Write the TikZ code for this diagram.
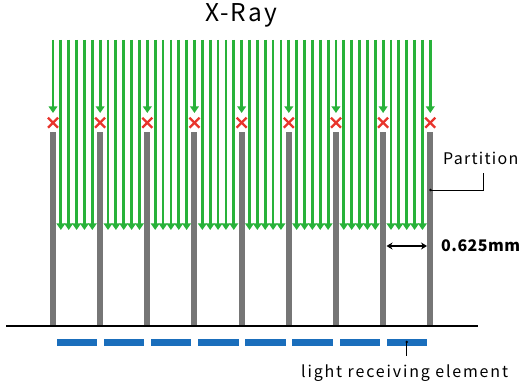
\documentclass[tikz,border=0pt]{standalone}
\usepackage{fontspec}
\setmainfont[LetterSpace=8]{Noto Sans CJK JP}
\usetikzlibrary{arrows.meta}
\definecolor{raygreen}{RGB}{40,178,58}
\definecolor{stopred}{RGB}{232,52,44}
\definecolor{partgray}{RGB}{118,118,118}
\definecolor{elemblue}{RGB}{26,110,188}
\tikzset{
  ray/.style={draw=raygreen, line width=2.8pt, -{Triangle[length=6.5pt,width=8.5pt]}},
  stopmark/.style={draw=stopred, line width=2.3pt},
  partition/.style={fill=partgray},
  element/.style={fill=elemblue},
  leader/.style={draw=black, line width=0.8pt},
  dimarrow/.style={draw=black, line width=1.6pt, {Stealth[length=6pt,width=7pt]}-{Stealth[length=6pt,width=7pt]}},
  lbl/.style={inner sep=0pt, font=\fontsize{16}{19}\selectfont}
}
\begin{document}
\begin{tikzpicture}[x=1pt,y=-1pt]
\useasboundingbox[fill=white] (0,0) rectangle (528,385);
% green rays between partitions
\foreach \i [evaluate=\i as \px using 53+47.16*\i] in {0,...,7}{
  \foreach \k in {1,...,5}{
    \draw[ray] (\px+\k*7.86,40) -- (\px+\k*7.86,230);
  }
}
% rays blocked above partitions
\foreach \i [evaluate=\i as \px using 53+47.16*\i] in {0,...,8}{
  \draw[ray] (\px,40) -- (\px,113);
  \draw[stopmark] (\px-5,117.7) -- (\px+5,127.7);
  \draw[stopmark] (\px-5,127.7) -- (\px+5,117.7);
  \fill[partition] (\px-3,132.5) rectangle (\px+3,325);
}
% light receiving elements
\foreach \i [evaluate=\i as \px using 53+47.16*\i] in {0,...,7}{
  \fill[element] (\px+3.6,339) rectangle (\px+47.16-3,345.5);
}
% base line
\draw[line width=2pt] (6,325.5) -- (477.5,325.5);
% title
\node[inner sep=0pt, font=\fontsize{24.5}{29}\selectfont] (xray) at (241,15) {X-Ray};
% partition label
\node[lbl, anchor=base west] (plabel) at (443,165) {Partition};
\coordinate (pdot) at (430.5,190);
\coordinate (pbend) at (483,190);
\coordinate (pend) at (483,173);
\fill (pdot) circle (1.3pt);
\draw[leader] (pdot) -- (pbend) -- (pend);
% dimension
\coordinate (dl) at (386.5,246);
\coordinate (dr) at (427,246);
\draw[dimarrow] (dl) -- (dr);
\node[lbl, font=\fontsize{16}{19}\selectfont\bfseries\addfontfeature{LetterSpace=3}, anchor=west] (dim) at (441,246) {0.625mm};
% element label
\node[lbl, font=\fontsize{16}{19}\selectfont\addfontfeature{LetterSpace=11.5}, anchor=base west] (elabel) at (301,377) {light receiving element};
\coordinate (edot) at (406.7,342);
\coordinate (eend) at (406.7,356);
\fill (edot) circle (1.3pt);
\draw[leader] (edot) -- (eend);
\end{tikzpicture}
\end{document}
